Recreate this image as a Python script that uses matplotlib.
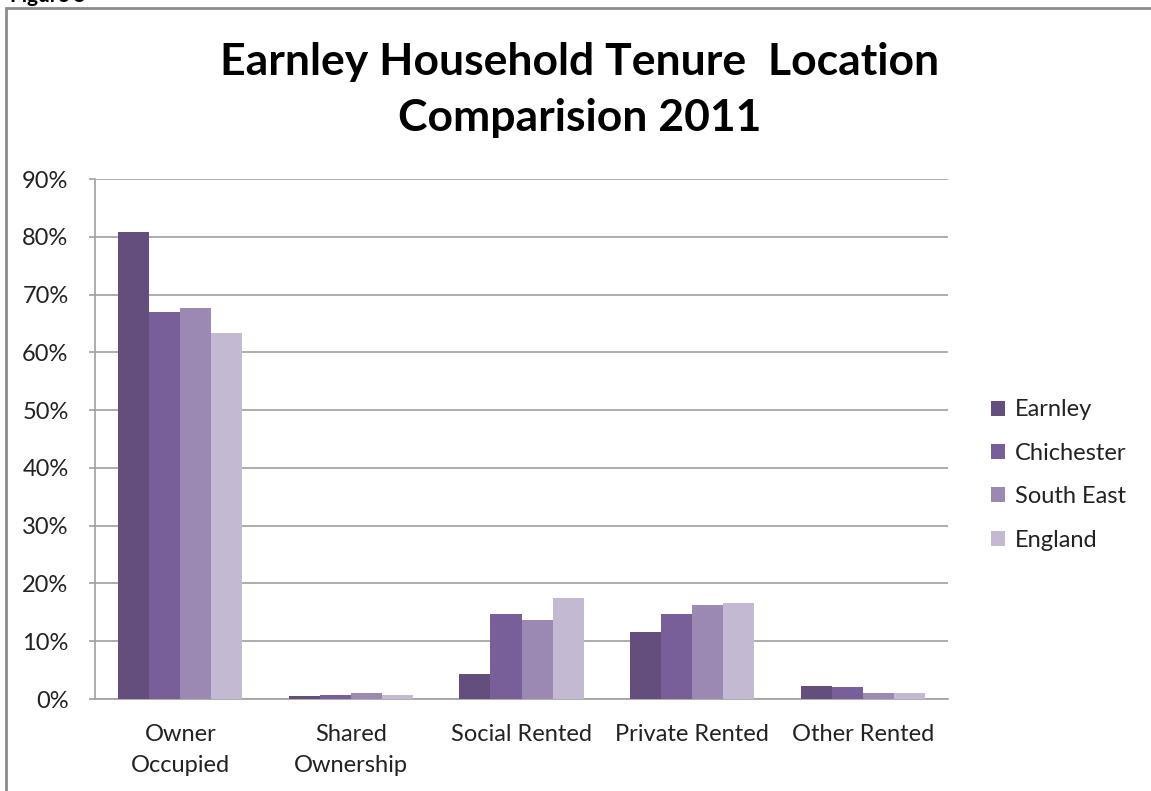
"""
Earnley household tenure - location comparison 2011
"""

import matplotlib
matplotlib.use("Agg")
import matplotlib.pyplot as plt
import numpy as np
from matplotlib.patches import Rectangle
from matplotlib.ticker import PercentFormatter

# data (percent of households)
categories = ["Owner\nOccupied", "Shared\nOwnership", "Social Rented", "Private Rented", "Other Rented"]
series_names = ["Earnley", "Chichester", "South East", "England"]
earnley = [80.8, 0.5, 4.4, 11.6, 2.3]
chichester = [67.0, 0.75, 14.7, 14.7, 2.0]
south_east = [67.7, 1.0, 13.6, 16.2, 1.1]
england = [63.3, 0.75, 17.5, 16.7, 1.1]
colors = ["#634e7e", "#795f9a", "#9b89b4", "#c3b9d2"]

plt.rcParams["font.family"] = ["Lato", "DejaVu Sans"]

fig = plt.figure(figsize=(11.51, 7.91), dpi=100)
W, H = 1151, 791

# outer chart border (runs off the right and bottom edges)
fig.patches.append(Rectangle((6 / W, -0.1), 1.2, 1 - 8 / H + 0.1,
                             transform=fig.transFigure, fill=False,
                             edgecolor="#8c8c8c", linewidth=2))
fig.text(10 / W, 1.0 - 2 / H, "Figure 5", fontsize=15, fontweight="bold",
         va="baseline", ha="left")

ax = fig.add_axes([95 / W, (791 - 699) / H, (948 - 95) / W, (699 - 179) / H])

x = np.arange(len(categories))
bw = 1 / 5.5
all_series = [earnley, chichester, south_east, england]
for i, (name, vals) in enumerate(zip(series_names, all_series)):
    ax.bar(x + (i - 1.5) * bw, vals, width=bw, color=colors[i], label=name,
           zorder=3, linewidth=0)

ax.set_xlim(-0.5, len(categories) - 0.5)
ax.set_ylim(0, 90)
ax.set_yticks(np.arange(0, 91, 10))
ax.yaxis.set_major_formatter(PercentFormatter(decimals=0))
ax.set_xticks(x)
ax.set_xticklabels(categories, fontsize=17, color="#222222", linespacing=1.6)
ax.tick_params(axis="y", labelsize=17, labelcolor="#222222", length=4,
               color="#a0a0a0", width=1.2, pad=15)
ax.tick_params(axis="x", length=0, pad=18)

ax.grid(axis="y", color="#a0a0a0", linewidth=1.2, zorder=0)
for s in ["top", "right"]:
    ax.spines[s].set_visible(False)
for s in ["left", "bottom"]:
    ax.spines[s].set_color("#a0a0a0")
    ax.spines[s].set_linewidth(1.2)

fig.text(580 / W, 1 - 90 / H, "Earnley Household Tenure  Location\nComparision 2011",
         ha="center", va="center", fontsize=32, fontweight="bold",
         linespacing=1.48)

ax.legend(loc="center left", bbox_to_anchor=(970 / W, (791 - 475) / H),
          bbox_transform=fig.transFigure, frameon=False, fontsize=17,
          handlelength=0.6, handleheight=0.6, handletextpad=0.4,
          labelspacing=0.95, labelcolor="#222222")

plt.savefig("out.png", dpi=100)
